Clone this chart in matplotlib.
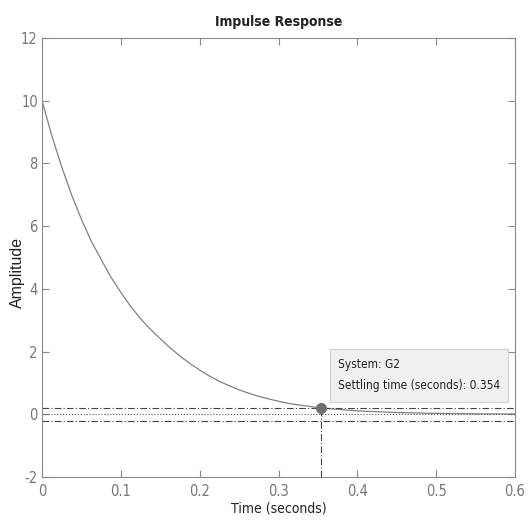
import matplotlib
matplotlib.use('Agg')
import matplotlib.pyplot as plt
from matplotlib.patches import Rectangle

plt.rcParams['axes.unicode_minus'] = False

# valeurs
t = [0, 0.0125, 0.025, 0.0375, 0.05, 0.0625, 0.075, 0.0875, 0.1, 0.1125,
     0.125, 0.1375, 0.15, 0.1625, 0.175, 0.1875, 0.2, 0.2125, 0.225, 0.2375,
     0.25, 0.2625, 0.275, 0.2875, 0.3, 0.3125, 0.325, 0.34, 0.354, 0.4,
     0.45, 0.5, 0.55, 0.6]
amp = [10, 8.88, 7.89, 7.0, 6.22, 5.52, 4.94, 4.37, 3.89, 3.44,
       3.05, 2.71, 2.41, 2.12, 1.86, 1.62, 1.41, 1.22, 1.05, 0.91,
       0.78, 0.67, 0.573, 0.49, 0.416, 0.35, 0.299, 0.25, 0.200, 0.109,
       0.057, 0.029, 0.014, 0.0075]
t_settle = 0.354
y_settle = 0.2
band = [0.2, -0.2]
final = 0.0
xticks = [0, 0.1, 0.2, 0.3, 0.4, 0.5, 0.6]
yticks = [-2, 0, 2, 4, 6, 8, 10, 12]

narrow = dict(family=['DejaVu Sans'], stretch='condensed')
grey = '#8a8a8a'
dd = (6, 2, 1, 2)

fig = plt.figure(figsize=(5.31, 5.25), dpi=100)
ax = fig.add_axes([0.0791, 0.0914, 0.8908, 0.8362])

ax.plot(t, amp, color='#808080', lw=0.9)
for b in band:
    ax.axhline(b, color='#444444', lw=0.8, ls='-.', dashes=dd)
ax.axhline(final, color='#555555', lw=0.8, ls=':')
ax.plot([t_settle, t_settle], [-2, y_settle], color='#444444', lw=0.8,
        ls='-.', dashes=dd)
ax.plot(t_settle, y_settle, 'o', color='#707070', ms=7, zorder=5)

# bulle d'information
ax.add_patch(Rectangle((0.609, 0.172), 0.376, 0.119, transform=ax.transAxes,
                       fc='#f0f0f0', ec='#d0d0d0', lw=0.8, zorder=6))
ax.text(0.626, 0.2315, 'System: G2\nSettling time (seconds): 0.354',
        transform=ax.transAxes, fontsize=8.6, color='#222222', va='center',
        linespacing=1.8, zorder=7, **narrow)

ax.set_xlim(0, 0.6)
ax.set_ylim(-2, 12)
ax.set_xticks(xticks)
ax.set_xticklabels([f'{v:g}' for v in xticks])
ax.set_yticks(yticks)
ax.tick_params(direction='in', top=True, right=True, length=5, width=0.8,
               colors=grey, labelsize=10.5)
ax.tick_params(axis='y', pad=3)
ax.tick_params(axis='x', pad=5)
for lab in ax.get_xticklabels() + ax.get_yticklabels():
    lab.set_family(narrow['family'])
    lab.set_stretch('condensed')
    lab.set_color('#777777')
for s in ax.spines.values():
    s.set_color(grey)
    s.set_linewidth(0.8)

ax.set_title('Impulse Response', fontsize=10, fontweight='bold',
             color='#222222', pad=9, **narrow)
ax.set_xlabel('Time (seconds)', fontsize=10, color='#222222', labelpad=2,
              **narrow)
ax.set_ylabel('Amplitude', fontsize=11.5, family=['Liberation Sans', 'DejaVu Sans'],
              color='#222222')
ax.yaxis.set_label_coords(-0.036, 0.467)

fig.savefig('out.png', dpi=100)
